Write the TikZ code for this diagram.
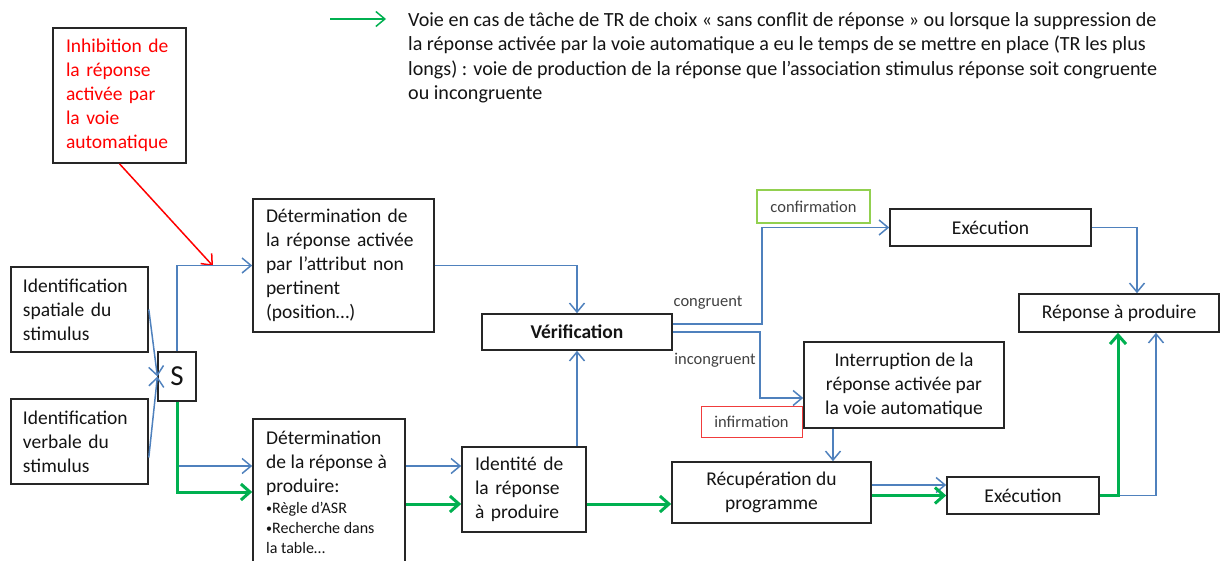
\documentclass[tikz,border=0pt]{standalone}
\usepackage{fontspec}
\setmainfont{Carlito}
\usetikzlibrary{arrows.meta}
\definecolor{oblue}{RGB}{79,129,189}
\definecolor{ogreen}{RGB}{0,176,80}
\definecolor{lgreen}{RGB}{146,208,80}
\definecolor{txt}{RGB}{20,20,20}
\definecolor{lblc}{RGB}{64,64,64}
\definecolor{ired}{RGB}{240,60,60}
\newcommand{\smbul}{{\fontsize{12}{12}\selectfont\raisebox{1pt}{•}}}
\tikzset{
 box/.style={draw=black!85, line width=1.6pt, inner sep=0pt, text=txt, font=\fontsize{19.5}{24}\selectfont},
 lbox/.style={box, align=left, inner xsep=13pt},
 cbox/.style={box, align=center},
 barrow/.style={draw=oblue, line width=1.5pt, -{Straight Barb[length=9pt,width=15pt]}},
 garrow/.style={draw=ogreen, line width=3pt, -{Straight Barb[length=9pt,width=16pt]}},
 larrow/.style={draw=ogreen, line width=1.5pt, -{Straight Barb[length=9pt,width=15pt]}},
 rarrow/.style={draw=red, line width=1.5pt, -{Straight Barb[length=9pt,width=15pt]}},
 lbl/.style={text=lblc, font=\fontsize{16.5}{20}\selectfont, inner sep=0pt},
 small/.style={text=txt, font=\fontsize{16}{20}\selectfont, inner sep=0pt, anchor=base west},
 big/.style={text=txt, font=\fontsize{19.5}{24}\selectfont, inner sep=0pt, anchor=base west},
}
\begin{document}
\begin{tikzpicture}[x=1pt,y=-1pt]
\useasboundingbox (0,0) rectangle (1224,560);
% legend
\coordinate (la) at (330,19);
\coordinate (lb) at (386,19);
\draw[larrow] (la) -- (lb);
\node[anchor=north west, align=left, inner sep=0pt, text=txt, font=\fontsize{20.1}{24.5}\selectfont] (leg) at (408,12)
 {Voie en cas de tâche de TR de choix « sans conflit de réponse » ou lorsque la suppression de\\
  la réponse activée par la voie automatique a eu le temps de se mettre en place (TR les plus\\
  longs) : voie de production de la réponse que l’association stimulus réponse soit congruente\\
  ou incongruente};
% boxes
\node[lbox, text=red, text width=107pt, minimum height=135pt] (inhib) at (119.5,95.5)
 {Inhibition de\\la réponse\\activée par\\la voie\\automatique};
\node[lbox, inner xsep=12pt, text width=113pt, minimum height=85pt] (idsp) at (79.5,309.5)
 {Identification\\spatiale du\\stimulus};
\node[lbox, inner xsep=12pt, text width=113pt, minimum height=85pt] (idvb) at (79.5,441.5)
 {Identification\\verbale du\\stimulus};
\node[cbox, line width=1.2pt, minimum width=38pt, minimum height=49pt, font=\fontsize{29}{32}\selectfont] (s) at (177,376.5) {S};
\node[lbox, text width=155pt, minimum height=133pt] (det1) at (343.5,265.5)
 {Détermination de\\la réponse activée\\par l’attribut non\\pertinent\\(position…)};
\node[box, minimum width=152pt, minimum height=143pt] (det2) at (329,490.5) {};
\node[big] (d2a) at (266,444) {Détermination};
\node[big] (d2b) at (266,468) {de la réponse à};
\node[big] (d2c) at (266,492) {produire:};
\node[small] (d2d) at (266,513) {\smbul Règle d’ASR};
\node[small] (d2e) at (266,533) {\smbul Recherche dans};
\node[small] (d2f) at (266,553) {la table…};
\node[lbox, text width=98pt, minimum height=85pt] (ident) at (524,489.5)
 {Identité de\\la réponse\\à produire};
\node[cbox, minimum width=190pt, minimum height=36pt, font=\fontsize{19.5}{24}\selectfont\bfseries] (verif) at (577,332) {Vérification};
\node[cbox, minimum width=199pt, minimum height=61pt] (recup) at (771.5,492.5) {Récupération du\\programme};
\node[cbox, minimum width=200pt, minimum height=86pt] (interr) at (904,385) {Interruption de la\\réponse activée par\\la voie automatique};
\node[cbox, minimum width=201pt, minimum height=37pt] (exec1) at (990.5,227.5) {Exécution};
\node[cbox, minimum width=200pt, minimum height=38pt] (rep) at (1119,313) {Réponse à produire};
\node[cbox, minimum width=152pt, minimum height=37pt] (exec2) at (1023,495.5) {Exécution};
\node[lbl, draw=lgreen, line width=1.5pt, minimum width=113pt, minimum height=33pt] (conf) at (813.5,206.5) {confirmation};
\node[lbl, draw=ired, line width=1pt, minimum width=101pt, minimum height=31pt] (inf) at (751.5,421.5) {infirmation};
\node[lbl] (cong) at (708,303) {congruent};
\node[lbl] (incong) at (715,360) {incongruent};
% connectors
\coordinate (redtip) at (213,266);
\draw[rarrow] (inhib.south) -- (redtip);
\draw[barrow] (idsp.east) -- (s.west);
\draw[barrow] ([yshift=-16pt]idvb.east) -- (s.west);
\draw[barrow] (s.north) |- (det1.west);
\coordinate (yb1) at (0,466);
\coordinate (yg1) at (0,492);
\coordinate (yg2) at (0,504);
\draw[barrow] (s.south) |- (det2.west |- yb1);
\draw[garrow] (s.south) |- (det2.west |- yg1);
\draw[barrow] (det1.east) -| (verif.north);
\draw[barrow] (det2.east |- yb1) -- (ident.west |- yb1);
\draw[garrow] (det2.east |- yg2) -- (ident.west |- yg2);
\draw[barrow] (ident.north -| verif.south) -- (verif.south);
\draw[garrow] (ident.east |- yg2) -- (recup.west |- yg2);
\draw[barrow] ([yshift=8pt]verif.east) -- ++(89,0) |- (exec1.west);
\draw[barrow] (verif.east) -- ++(87,0) |- ([yshift=-13pt]interr.west);
\coordinate (x833) at (833,0);
\draw[barrow] (interr.south -| x833) -- (recup.north -| x833);
\coordinate (yb3) at (0,485);
\draw[barrow] (recup.east |- yb3) -- (exec2.west |- yb3);
\draw[garrow] (recup.east |- exec2.west) -- (exec2.west);
\coordinate (x1118) at (1118,0);
\coordinate (x1156) at (1156,0);
\draw[barrow] (exec2.east) -| (rep.south -| x1156);
\draw[garrow] (exec2.east) -| (rep.south -| x1118);
\draw[barrow] (exec1.east) -| ([xshift=18pt]rep.north);
\end{tikzpicture}
\end{document}
